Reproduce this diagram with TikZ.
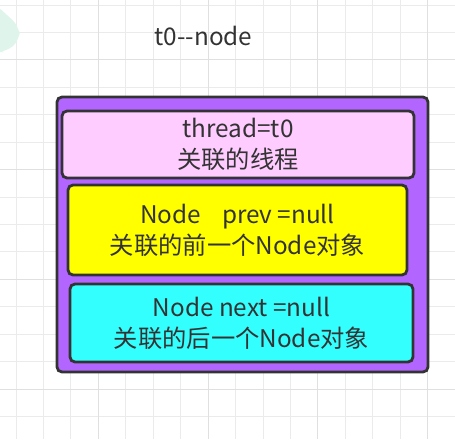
\documentclass[tikz,border=0pt]{standalone}
\usepackage{fontspec}
\setmainfont{Noto Sans CJK SC}
\usetikzlibrary{shadows}
\definecolor{gridminor}{HTML}{EBEBEB}
\definecolor{gridmajor}{HTML}{E0E0E0}
\definecolor{mint}{HTML}{DFF5EC}
\definecolor{txt}{HTML}{333333}
\definecolor{edge}{HTML}{333333}
\definecolor{cpurple}{HTML}{B266FF}
\definecolor{cpink}{HTML}{FFCCFF}
\definecolor{cyellow}{HTML}{FFFF00}
\definecolor{ccyan}{HTML}{33FFFF}
\tikzset{
  cellbox/.style={draw=edge, line width=2.8pt, rounded corners=5pt,
    align=center, text=txt, inner sep=0pt,
    font=\fontsize{24.3}{31}\selectfont,
    drop shadow={opacity=0.25, shadow xshift=0.8pt, shadow yshift=-0.8pt}},
  titletext/.style={text=txt, font=\fontsize{24.3}{31}\selectfont, inner sep=0pt}
}
\begin{document}
\begin{tikzpicture}[x=1pt,y=-1pt]
\useasboundingbox (0,0) rectangle (455,439);
\fill[white] (0,0) rectangle (455,439);
% grid
\foreach \k in {0,...,16} {
  \pgfmathsetmacro\gx{16+27.45*\k}
  \draw[gridminor, line width=1pt] (\gx,0) -- (\gx,439);
}
\foreach \k in {0,...,16} {
  \pgfmathsetmacro\gy{5+27.43*\k}
  \draw[gridminor, line width=1pt] (0,\gy) -- (455,\gy);
}
\foreach \k in {3,7,11,15} {
  \pgfmathsetmacro\gx{16+27.45*\k}
  \draw[gridmajor, line width=1pt] (\gx,0) -- (\gx,439);
}
\foreach \k in {2,6,10,14} {
  \pgfmathsetmacro\gy{5+27.43*\k}
  \draw[gridmajor, line width=1pt] (0,\gy) -- (455,\gy);
}
% mint blob at left edge
\fill[mint, rounded corners=9pt] (-5,4) -- (19,26) -- (20,40) -- (6,52) -- (-5,52) -- cycle;
% title
\node[titletext, anchor=base] (title) at (203.5,45) {t0-{}-node};
% boxes
\node[cellbox, fill=cpurple, minimum width=371pt, minimum height=275pt] (outer) at (242.5,234.5) {};
\node[cellbox, fill=cpink, minimum width=352pt, minimum height=67pt] (thread) at (238,144.5) {thread=t0\\关联的线程};
\node[cellbox, fill=cyellow, minimum width=339pt, minimum height=90pt] (prev) at (237.5,230) {Node\hspace*{21pt}prev =null\\关联的前一个Node对象};
\node[cellbox, fill=ccyan, minimum width=343pt, minimum height=78pt] (next) at (241.5,323) {Node next =null\\关联的后一个Node对象};
\end{tikzpicture}
\end{document}
